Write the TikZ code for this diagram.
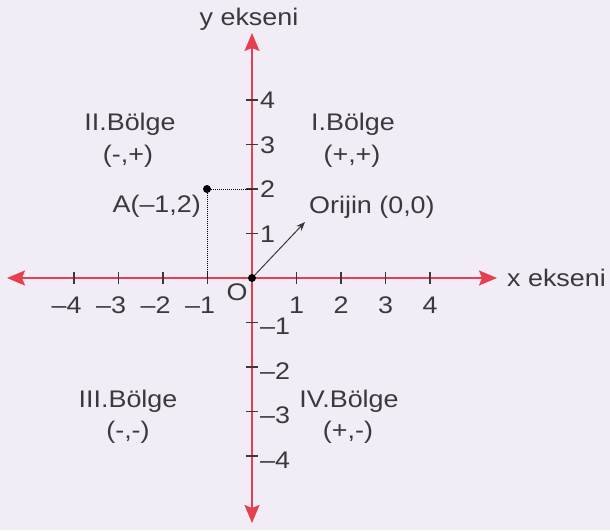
\documentclass[tikz,border=0pt]{standalone}
\usepackage{fontspec}
\setmainfont{Liberation Sans}[FakeStretch=1.12]
\usetikzlibrary{arrows.meta}
\definecolor{bg}{HTML}{F1ECF6}
\definecolor{axisred}{HTML}{E5404E}
\definecolor{txt}{HTML}{3A3A3A}
\begin{document}
\begin{tikzpicture}[x=1pt,y=-1pt,
  lbl/.style={font=\fontsize{24}{28}\selectfont, text=txt, inner sep=0pt},
  axisline/.style={draw=axisred, line width=1.5pt,
    {Stealth[length=18pt,width=15pt,inset=3pt,fill=axisred]}-{Stealth[length=18pt,width=15pt,inset=3pt,fill=axisred]}},
  tickmark/.style={draw=txt, line width=1.2pt},
  guide/.style={draw=black, line width=1pt, densely dotted},
  dotpt/.style={circle, fill=black, inner sep=0pt, minimum size=8pt},
  pointer/.style={draw=txt, line width=1pt, -{Stealth[length=9pt,width=7pt]}}
]
\fill[bg] (0,0) rectangle (610,530);
\useasboundingbox (0,0) rectangle (610,530);

% axis ends
\coordinate (O) at (252,278);
\coordinate (xl) at (7,278);
\coordinate (xr) at (497,278);
\coordinate (yt) at (252,33);
\coordinate (yb) at (252,523);

\draw[axisline] (xl) -- (xr);
\draw[axisline] (yb) -- (yt);

% ticks and labels
\foreach \i in {1,2,3,4}{
  \draw[tickmark] (252+44.5*\i,272) -- (252+44.5*\i,284);
  \draw[tickmark] (252-44.5*\i,272) -- (252-44.5*\i,284);
  \draw[tickmark] (246,278-44.5*\i) -- (258,278-44.5*\i);
  \draw[tickmark] (246,278+44.5*\i) -- (258,278+44.5*\i);
  \node[lbl, anchor=base] (xp\i) at (252+44.5*\i,313) {\i};
  \node[lbl, anchor=base] (xn\i) at (252-44.5*\i,313) {\llap{–}\i};
  \node[lbl, anchor=base west] (yp\i) at (260,278-44.5*\i+8.5) {\i};
  \node[lbl, anchor=base west] (yn\i) at (260,278+44.5*\i+12) {–\i};
}

% axis titles
\node[lbl, anchor=base] (ytitle) at (249,25) {y ekseni};
\node[lbl, anchor=base west] (xtitle) at (507,286) {x ekseni};

% origin
\node[lbl] (Olbl) at (237,292) {O};
\node[dotpt] (Odot) at (O) {};

% point A
\node[dotpt] (A) at (207,189) {};
\coordinate (Ax) at (207,278);
\coordinate (Ay) at (252,189);
\draw[guide] (A) -- (Ax);
\draw[guide] (A) -- (Ay);
\node[lbl, anchor=base east] (Albl) at (201,212) {A(–1,2)};

% origin pointer
\coordinate (tip) at (305,222);
\draw[pointer] (Odot) -- (tip);
\node[lbl, anchor=base west] (orj) at (309,213) {Orijin (0,0)};

% quadrant labels
\node[lbl, anchor=base] (q2) at (130,130) {II.Bölge};
\node[lbl, anchor=base] (q2s) at (128,162) {(-,+)};
\node[lbl, anchor=base] (q1) at (353,130) {I.Bölge};
\node[lbl, anchor=base] (q1s) at (352,162) {(+,+)};
\node[lbl, anchor=base] (q3) at (128,407) {III.Bölge};
\node[lbl, anchor=base] (q3s) at (128,438) {(-,-)};
\node[lbl, anchor=base] (q4) at (349,407) {IV.Bölge};
\node[lbl, anchor=base] (q4s) at (348,438) {(+,-)};
\end{tikzpicture}
\end{document}
